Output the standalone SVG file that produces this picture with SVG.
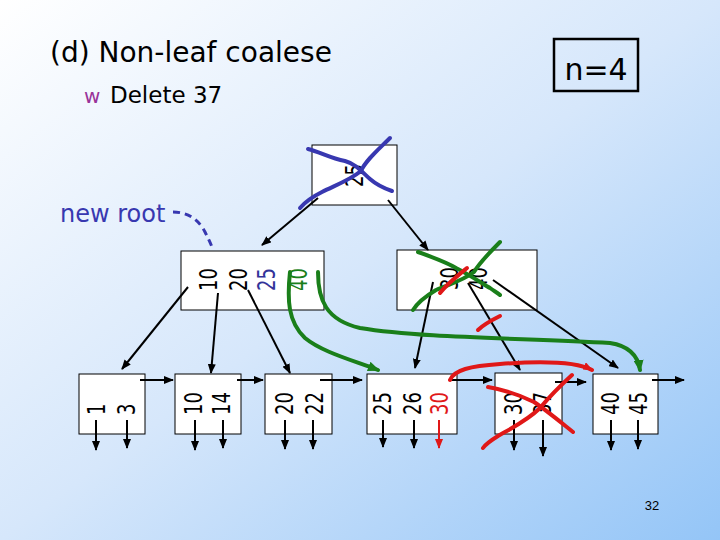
<svg xmlns="http://www.w3.org/2000/svg" width="720" height="540" viewBox="0 0 720 540">
<defs>
<linearGradient id="bg" x1="0" y1="0" x2="1" y2="1">
<stop offset="0" stop-color="#ffffff"/>
<stop offset="0.5" stop-color="#d6e7fb"/>
<stop offset="1" stop-color="#94c5f7"/>
</linearGradient>
<marker id="ah" markerUnits="userSpaceOnUse" markerWidth="10" markerHeight="8" refX="9" refY="4" orient="auto">
<path d="M0,0 L10,4 L0,8 z" fill="#000"/>
</marker>
<marker id="ahr" markerUnits="userSpaceOnUse" markerWidth="10" markerHeight="8" refX="9" refY="4" orient="auto">
<path d="M0,0 L10,4 L0,8 z" fill="#e01818"/>
</marker>
<marker id="ahg" markerUnits="userSpaceOnUse" markerWidth="12" markerHeight="10" refX="10" refY="5" orient="auto">
<path d="M0,0 L12,5 L0,10 z" fill="#1a7f1a"/>
</marker>
<style>
.box{fill:#fff;stroke:#000;stroke-width:1}
.k{font-family:"DejaVu Sans",Verdana,sans-serif;font-size:24px;fill:#000}
.ln{stroke:#000;stroke-width:2;fill:none;marker-end:url(#ah)}
.dn{stroke:#000;stroke-width:2;fill:none;marker-end:url(#ah)}
.blue{stroke:#3838b0;stroke-width:4;fill:none;stroke-linecap:round;stroke-linejoin:round}
.green{stroke:#1a7f1a;stroke-width:4;fill:none;stroke-linecap:round;stroke-linejoin:round}
.red{stroke:#e01818;stroke-width:4;fill:none;stroke-linecap:round;stroke-linejoin:round}
.t{font-family:"DejaVu Sans",Verdana,sans-serif;fill:#000}
</style>
</defs>
<rect width="720" height="540" fill="url(#bg)"/>

<g id="title">
<text class="t" x="50" y="62" font-size="28">(d) Non-leaf coalese</text>
<text class="t" x="84" y="103" font-size="20" fill="#993399" style="fill:#993399">w</text>
<text class="t" x="110" y="103" font-size="23">Delete 37</text>
</g>

<g id="n4">
<rect x="554" y="39" width="84" height="52" fill="none" stroke="#000" stroke-width="2.5"/>
<text class="t" x="596" y="80" font-size="30" text-anchor="middle">n=4</text>
</g>

<g id="newroot">
<text class="t" x="60" y="222" font-size="24" style="fill:#3838b0">new root</text>
</g>

<g id="root">
<rect class="box" x="312" y="145" width="85" height="60"/>
<text class="k" transform="translate(363,187) rotate(-90) scale(0.75,1)">25</text>
</g>

<g id="inner-left">
<rect class="box" x="181" y="251" width="143" height="59"/>
<text class="k" transform="translate(217,291) rotate(-90) scale(0.75,1)">10</text>
<text class="k" transform="translate(247,291) rotate(-90) scale(0.75,1)">20</text>
<text class="k" transform="translate(275,291) rotate(-90) scale(0.75,1)" style="fill:#333399">25</text>
<text class="k" transform="translate(307,291) rotate(-90) scale(0.75,1)" style="fill:#1a7f1a">40</text>
</g>

<g id="inner-right">
<rect class="box" x="397" y="250" width="140" height="60"/>
<text class="k" transform="translate(458,290) rotate(-90) scale(0.75,1)">30</text>
<text class="k" transform="translate(487,290) rotate(-90) scale(0.75,1)">40</text>
</g>

<g id="leaf1">
<rect class="box" x="79" y="374" width="66" height="60"/>
<text class="k" transform="translate(105,415) rotate(-90) scale(0.75,1)">1</text>
<text class="k" transform="translate(135,415) rotate(-90) scale(0.75,1)">3</text>
</g>
<g id="leaf2">
<rect class="box" x="175" y="374" width="66" height="60"/>
<text class="k" transform="translate(202,415) rotate(-90) scale(0.75,1)">10</text>
<text class="k" transform="translate(230,415) rotate(-90) scale(0.75,1)">14</text>
</g>
<g id="leaf3">
<rect class="box" x="265" y="374" width="67" height="60"/>
<text class="k" transform="translate(293,415) rotate(-90) scale(0.75,1)">20</text>
<text class="k" transform="translate(323,415) rotate(-90) scale(0.75,1)">22</text>
</g>
<g id="leaf4">
<rect class="box" x="367" y="374" width="90" height="60"/>
<text class="k" transform="translate(391,415) rotate(-90) scale(0.75,1)">25</text>
<text class="k" transform="translate(421,415) rotate(-90) scale(0.75,1)">26</text>
<text class="k" transform="translate(448,415) rotate(-90) scale(0.75,1)" style="fill:#e01818">30</text>
</g>
<g id="leaf5">
<rect class="box" x="495" y="373" width="67" height="61"/>
<text class="k" transform="translate(522,415) rotate(-90) scale(0.75,1)">30</text>
<text class="k" transform="translate(551,415) rotate(-90) scale(0.75,1)">37</text>
</g>
<g id="leaf6">
<rect class="box" x="593" y="374" width="65" height="60"/>
<text class="k" transform="translate(619,415) rotate(-90) scale(0.75,1)">40</text>
<text class="k" transform="translate(647,415) rotate(-90) scale(0.75,1)">45</text>
</g>

<g id="connectors">
<line class="ln" x1="318" y1="198" x2="262" y2="245"/>
<line class="ln" x1="388" y1="200" x2="428" y2="250"/>
<line class="ln" x1="188" y1="287" x2="122" y2="369"/>
<line class="ln" x1="218" y1="293" x2="211" y2="373"/>
<line class="ln" x1="248" y1="290" x2="290" y2="373"/>
<line class="ln" x1="433" y1="282" x2="415" y2="368"/>
<line class="ln" x1="468" y1="283" x2="520" y2="370"/>
<line class="ln" x1="493" y1="280" x2="618" y2="368"/>
<line class="ln" x1="140" y1="380" x2="173" y2="380"/>
<line class="ln" x1="237" y1="380" x2="263" y2="380"/>
<line class="ln" x1="320" y1="380" x2="362" y2="380"/>
<line class="ln" x1="450" y1="380" x2="492" y2="380"/>
<line class="ln" x1="555" y1="382" x2="586" y2="382"/>
<line class="ln" x1="652" y1="380" x2="684" y2="380"/>
<line class="dn" x1="96" y1="420" x2="96" y2="450"/>
<line class="dn" x1="127" y1="420" x2="127" y2="448"/>
<line class="dn" x1="195" y1="420" x2="195" y2="450"/>
<line class="dn" x1="223" y1="420" x2="223" y2="448"/>
<line class="dn" x1="285" y1="420" x2="285" y2="449"/>
<line class="dn" x1="313" y1="420" x2="313" y2="449"/>
<line class="dn" x1="383" y1="420" x2="383" y2="447"/>
<line class="dn" x1="414" y1="420" x2="414" y2="448"/>
<line x1="439" y1="420" x2="439" y2="448" stroke="#e01818" stroke-width="2" marker-end="url(#ahr)"/>
<line class="dn" x1="514" y1="420" x2="514" y2="450"/>
<line class="dn" x1="543" y1="420" x2="543" y2="456"/>
<line class="dn" x1="611" y1="420" x2="611" y2="450"/>
<line class="dn" x1="638" y1="420" x2="638" y2="449"/>
<path d="M173,212 C190,212 200,222 205,232 C208,238 210,242 212,247" stroke="#3838b0" stroke-width="3" fill="none" stroke-dasharray="7,5"/>
<path class="green" d="M290,272 C287,300 288,322 305,338 C322,352 352,360 378,370" marker-end="url(#ahg)"/>
<path class="green" d="M318,272 C318,300 326,320 360,328 C420,338 520,338 610,343 C630,346 638,356 640,370" marker-end="url(#ahg)"/>
<path class="red" d="M450,380 C454,370 470,366 500,364 C540,361 575,361 592,370" marker-end="url(#ahr)"/>
</g>

<g id="strikes">
<path class="blue" d="M308,149 C320,152 330,158 345,161 C356,164 362,172 370,179 C378,186 386,189 392,191"/>
<path class="blue" d="M390,138 C378,150 366,160 361,171 C350,180 336,185 322,192 C312,197 305,202 300,208"/>
<path class="green" d="M418,252 C432,257 446,262 456,268 C468,274 480,282 490,288 C494,291 498,293 500,295"/>
<path class="green" d="M500,242 C490,252 480,262 474,272 C464,280 450,284 436,290 C426,296 418,302 413,310"/>
<path class="red" d="M440,293 C447,284 455,278 467,268"/>
<path class="red" d="M478,330 C484,324 492,320 500,316"/>
<path class="red" d="M488,387 C505,390 520,395 534,402 C546,410 558,420 573,432"/>
<path class="red" d="M572,375 C560,386 550,396 540,408 C528,420 512,428 498,436 C490,441 485,445 483,448"/>
</g>

<text x="652" y="510" font-family="'Liberation Sans Narrow','Liberation Sans',sans-serif" font-size="13" text-anchor="middle" fill="#000">32</text>
</svg>
